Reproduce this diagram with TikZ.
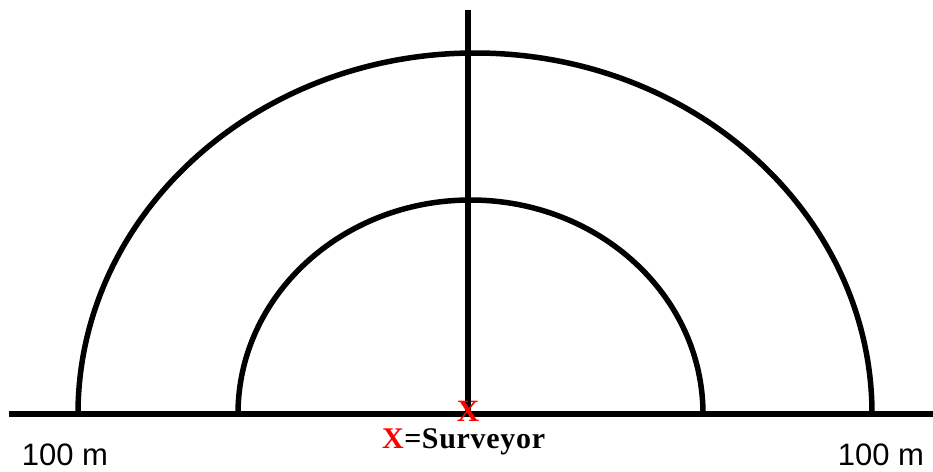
\documentclass[tikz,border=0pt]{standalone}
\usepackage{fontspec}
\setmainfont{Liberation Serif}
\setsansfont{Liberation Sans}
\begin{document}
\begin{tikzpicture}[x=1pt,y=-1pt,
  line/.style={line width=5.5pt},
  dist/.style={font=\sffamily\fontsize{31}{31}\selectfont,inner sep=0pt}]
\useasboundingbox (0,0) rectangle (933,471);
% ground line and axis
\coordinate (gl) at (9,414);
\coordinate (gr) at (933,414);
\coordinate (vt) at (468,10);
\coordinate (vb) at (468,414);
\draw[line] (gl) -- (gr);
\draw[line] (vt) -- (vb);
% outer half-ellipse
\draw[line] (78,414) arc[start angle=180,end angle=360,x radius=397,y radius=361];
% inner half-ellipse
\draw[line] (238,414) arc[start angle=180,end angle=360,x radius=232.5,y radius=214];
% labels
\node[dist] (l100) at (65,455) {100 m};
\node[dist] (r100) at (881,455) {100 m};
\node[inner sep=0pt,text=red,font=\bfseries\fontsize{31}{31}\selectfont,anchor=base] (sx) at (468,421) {X};
\node[inner sep=0pt,font=\bfseries\fontsize{30}{30}\selectfont,anchor=base west] (leg) at (382,448) {\textcolor{red}{X}\kern0.5pt=\kern0.5pt S\kern0.7ptu\kern0.7ptr\kern0.7ptv\kern0.7pte\kern0.7pty\kern0.7pto\kern0.7ptr};
\end{tikzpicture}
\end{document}
